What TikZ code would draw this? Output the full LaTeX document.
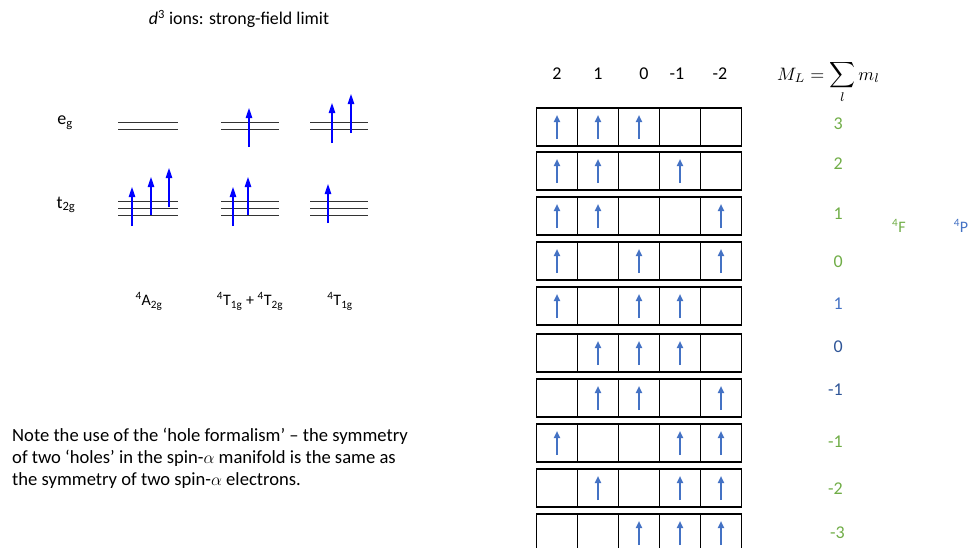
\documentclass[tikz,border=0pt]{standalone}
\usepackage{fontspec}
\usepackage{graphicx}
\setmainfont{Carlito}
\usetikzlibrary{arrows.meta}
\definecolor{abl}{HTML}{4472C4}
\definecolor{dbl}{HTML}{2F5597}
\definecolor{agr}{HTML}{70AD47}
\tikzset{
  cell/.style={draw=black, line width=1.8pt, minimum width=41pt, minimum height=38pt, inner sep=0pt},
  tabarrow/.style={draw=abl, line width=1.9pt, -{Triangle[width=6pt,length=7pt]}},
  spinarrow/.style={draw=blue, line width=1.1pt, -{Triangle[width=6.5pt,length=10pt]}},
  level/.style={draw=black!80, line width=1.3pt},
  txt/.style={font=\fontsize{16}{19}\selectfont, inner sep=0pt},
  big/.style={font=\fontsize{18}{21}\selectfont, inner sep=0pt},
  mlv/.style={font=\fontsize{18}{21}\selectfont, inner sep=0pt, anchor=east},
}
\begin{document}
\begin{tikzpicture}[x=1pt,y=-1pt]
\useasboundingbox (0,0) rectangle (969,547);
% title
\node[inner sep=0pt, font=\fontsize{17.9}{20}\selectfont] (title) at (239,19) {\textit{d}\textsuperscript{3} ions: strong-field limit};
% left labels
\node[big] (eg) at (65,123) {e\textsubscript{g}};
\node[big] (t2g) at (66,205) {t\textsubscript{2g}};
% levels
\foreach \xa/\xb in {118/178, 221/279, 310/368}{
  \draw[level] (\xa,122.5) -- (\xb,122.5);
  \draw[level] (\xa,129.5) -- (\xb,129.5);
  \draw[level] (\xa,201.5) -- (\xb,201.5);
  \draw[level] (\xa,208.5) -- (\xb,208.5);
  \draw[level] (\xa,215.5) -- (\xb,215.5);
}
% spin arrows
\draw[spinarrow] (132,226) -- (132,187);
\draw[spinarrow] (151,215) -- (151,177);
\draw[spinarrow] (169,207) -- (169,168);
\draw[spinarrow] (233,226) -- (233,187);
\draw[spinarrow] (248,215) -- (248,177);
\draw[spinarrow] (328,223) -- (328,184);
\draw[spinarrow] (249,147) -- (249,108);
\draw[spinarrow] (332,143) -- (332,103);
\draw[spinarrow] (351,133) -- (351,94);
% term labels
\node[txt] (A2g) at (149,301) {\textsuperscript{4}A\textsubscript{2g}};
\node[txt] (T12) at (250,301) {\textsuperscript{4}T\textsubscript{1g} + \textsuperscript{4}T\textsubscript{2g}};
\node[txt] (T1g) at (340,301) {\textsuperscript{4}T\textsubscript{1g}};
% note
\node[inner sep=0pt, anchor=north west, align=left, font=\fontsize{18.6}{22}\selectfont] (note) at (12,428)
  {Note the use of the ‘hole formalism’ – the symmetry\\
   of two ‘holes’ in the spin-$\alpha$ manifold is the same as\\
   the symmetry of two spin-$\alpha$ electrons.};
% column headers
\foreach \lab/\x [count=\i] in {2/557, 1/598, 0/644, -1/677, -2/720}{
  \node[big] (h\i) at (\x,74) {\lab};
}
\node[inner sep=0pt, anchor=base west] (ml) at (777,80)
  {\scalebox{1.8}{$\displaystyle M_L=\sum_l m_l$}};
% table
\foreach \top/\cols [count=\r] in {108/{1,2,3}, 152/{1,2,4}, 197/{1,2,5}, 242/{1,3,5}, 287/{1,3,4},
  334/{2,3,4}, 379/{2,3,5}, 424/{1,4,5}, 469/{2,4,5}, 514/{3,4,5}}{
  \foreach \x [count=\c] in {557,598,639,680,721}{
    \node[cell] (c\r-\c) at (\x,\top+19) {};
  }
  \foreach \c in \cols{
    \draw[tabarrow] ([yshift=-12pt]c\r-\c.center) -- ([yshift=12pt]c\r-\c.center);
  }
}
% ML values
\node[mlv, text=agr] (v1) at (843,124) {3};
\node[mlv, text=agr] (v2) at (843,164) {2};
\node[mlv, text=agr] (v3) at (843,214) {1};
\node[mlv, text=agr] (v4) at (843,262) {0};
\node[mlv, text=abl] (v5) at (843,304) {1};
\node[mlv, text=dbl] (v6) at (843,347) {0};
\node[mlv, text=dbl] (v7) at (843,390) {-1};
\node[mlv, text=agr] (v8) at (843,442) {-1};
\node[mlv, text=agr] (v9) at (843,489) {-2};
\node[mlv, text=agr] (v10) at (845,533) {-3};
% terms
\node[inner sep=0pt, text=agr, font=\fontsize{16}{19}\selectfont] (F) at (899,226) {\textsuperscript{4}F};
\node[inner sep=0pt, text=abl, font=\fontsize{16}{19}\selectfont] (P) at (961,226) {\textsuperscript{4}P};
\end{tikzpicture}
\end{document}
